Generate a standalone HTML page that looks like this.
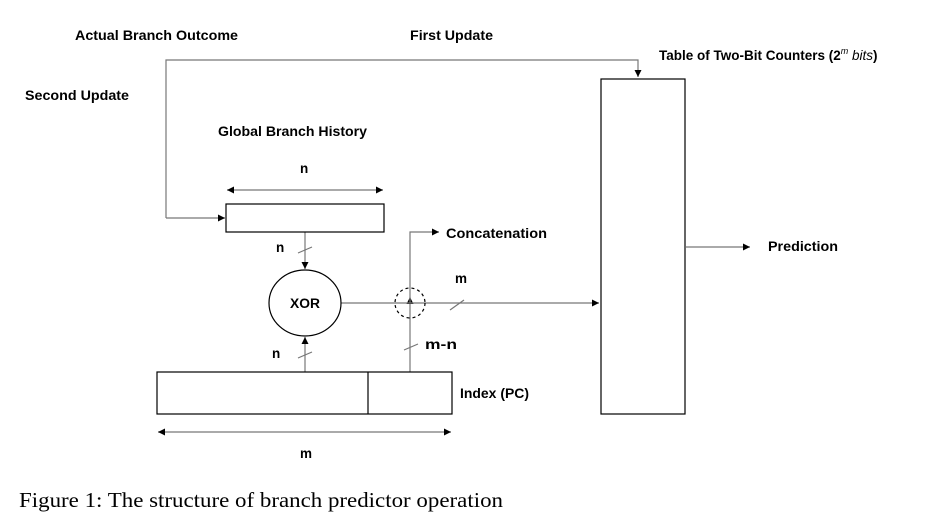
<!DOCTYPE html>
<html><head><meta charset="utf-8"><style>
html,body{margin:0;padding:0;background:#fff;}
svg{display:block;}
.l{font-family:"Liberation Sans",sans-serif;font-weight:bold;font-size:13.5px;fill:#000;}
</style></head><body>
<svg width="928" height="521" viewBox="0 0 928 521" xmlns="http://www.w3.org/2000/svg">
<defs>
<marker id="a" viewBox="0 0 10 10" refX="10" refY="5" markerWidth="7" markerHeight="7" orient="auto-start-reverse" markerUnits="userSpaceOnUse"><path d="M0,0L10,5L0,10z" fill="#000"/></marker>
</defs>
<g stroke="#777" stroke-width="1.2" fill="none">
<polyline points="166,218 166,60 638,60 638,77" marker-end="url(#a)"/>
<line x1="166" y1="218" x2="225" y2="218" marker-end="url(#a)"/>
<line x1="227" y1="190" x2="383" y2="190" marker-start="url(#a)" marker-end="url(#a)"/>
<line x1="305" y1="232" x2="305" y2="269" marker-end="url(#a)"/>
<line x1="305" y1="372" x2="305" y2="337" marker-end="url(#a)"/>
<line x1="410" y1="372" x2="410" y2="297" marker-end="url(#a)"/>
<polyline points="410,303 410,232 439,232" marker-end="url(#a)"/>
<line x1="341" y1="303" x2="599" y2="303" marker-end="url(#a)"/>
<line x1="686" y1="247" x2="750" y2="247" marker-end="url(#a)"/>
<line x1="158" y1="432" x2="451" y2="432" marker-start="url(#a)" marker-end="url(#a)"/>
<line x1="298" y1="253" x2="312" y2="247"/>
<line x1="298" y1="358" x2="312" y2="352"/>
<line x1="404" y1="350" x2="418" y2="344"/>
<line x1="450" y1="310" x2="464" y2="300"/>
</g>
<g stroke="#000" stroke-width="1.2" fill="none">
<rect x="226" y="204" width="158" height="28"/>
<ellipse cx="305" cy="303" rx="36" ry="33"/>
<rect x="157" y="372" width="295" height="42"/>
<line x1="368" y1="372" x2="368" y2="414"/>
<rect x="601" y="79" width="84" height="335"/>
<circle cx="410" cy="303" r="15" stroke-dasharray="3,3"/>
</g>
<text class="l" x="75" y="40" textLength="163" lengthAdjust="spacingAndGlyphs">Actual Branch Outcome</text>
<text class="l" x="410" y="40" textLength="83" lengthAdjust="spacingAndGlyphs">First Update</text>
<text class="l" x="25" y="100" textLength="104" lengthAdjust="spacingAndGlyphs">Second Update</text>
<text class="l" x="218" y="136" textLength="149" lengthAdjust="spacingAndGlyphs">Global Branch History</text>
<text class="l" x="659" y="60">Table of Two-Bit Counters (2<tspan dy="-6" font-size="9" font-style="italic" font-weight="normal">m</tspan><tspan dy="6" font-style="italic" font-weight="normal"> bits</tspan>)</text>
<text class="l" x="300" y="173">n</text>
<text class="l" x="276" y="252">n</text>
<text class="l" x="272" y="358">n</text>
<text class="l" x="290" y="308" textLength="30" lengthAdjust="spacingAndGlyphs">XOR</text>
<text class="l" x="446" y="238" textLength="101" lengthAdjust="spacingAndGlyphs">Concatenation</text>
<text class="l" x="455" y="283">m</text>
<text class="l" x="425" y="349" textLength="32" lengthAdjust="spacingAndGlyphs">m-n</text>
<text class="l" x="768" y="251" textLength="70" lengthAdjust="spacingAndGlyphs">Prediction</text>
<text class="l" x="460" y="398" textLength="69" lengthAdjust="spacingAndGlyphs">Index (PC)</text>
<text class="l" x="300" y="458">m</text>
<text x="19" y="507" font-family="Liberation Serif,serif" font-size="21" textLength="484" lengthAdjust="spacingAndGlyphs">Figure 1: The structure of branch predictor operation</text>
</svg>
</body></html>
